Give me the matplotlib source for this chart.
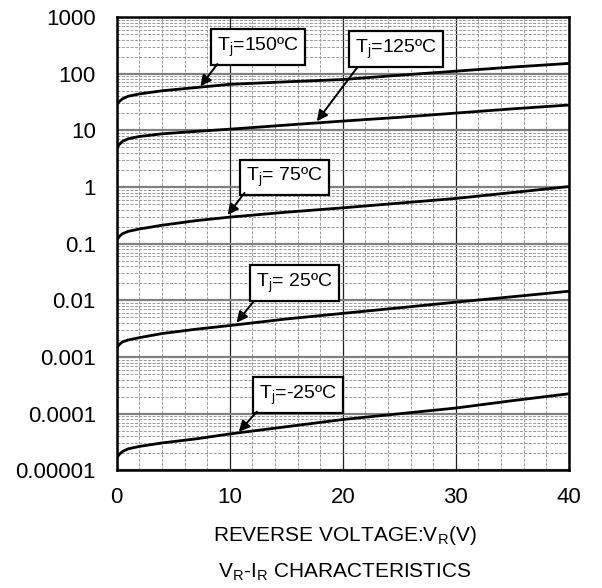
import matplotlib
matplotlib.use("Agg")
import matplotlib.pyplot as plt
from matplotlib.ticker import FixedLocator, LogLocator, NullFormatter

plt.rcParams['font.family'] = ['Liberation Sans', 'DejaVu Sans']
plt.rcParams['mathtext.fontset'] = 'custom'
plt.rcParams['mathtext.rm'] = 'Liberation Sans'

# reverse voltage (V)
vr = [0, 0.2, 0.5, 1, 2, 4, 7, 10, 15, 20, 25, 30, 35, 40]

# reverse current curves
ir_150 = [28, 32, 36, 40, 44, 50, 57, 65, 72, 79, 94, 111, 131, 152]
ir_125 = [4.8, 5.6, 6.4, 7.1, 7.8, 8.7, 9.6, 10.5, 12.4, 14.6, 17, 20.2, 24, 28]
ir_75 = [0.115, 0.133, 0.15, 0.165, 0.182, 0.212, 0.255, 0.295, 0.36, 0.43, 0.52, 0.63, 0.8, 1.02]
ir_25 = [0.00145, 0.00165, 0.00185, 0.002, 0.0022, 0.0026, 0.0031, 0.0036, 0.0047,
         0.0059, 0.0074, 0.0093, 0.0116, 0.0145]
ir_m25 = [1.65e-5, 1.9e-5, 2.15e-5, 2.4e-5, 2.65e-5, 3.05e-5, 3.6e-5, 4.4e-5, 5.9e-5,
          7.9e-5, 1.0e-4, 1.26e-4, 1.7e-4, 2.25e-4]

curves = [ir_150, ir_125, ir_75, ir_25, ir_m25]

# labels: text, box centre, arrow start, arrow tip
labels = ["T$_\\mathregular{j}$=150ºC", "T$_\\mathregular{j}$=125ºC",
          "T$_\\mathregular{j}$= 75ºC", "T$_\\mathregular{j}$= 25ºC",
          "T$_\\mathregular{j}$=-25ºC"]
box_xy = [(12.5, 299), (24.7, 273), (14.8, 1.476), (15.7, 0.0204), (16.0, 2.15e-4)]
arrow_from = [(8.9, 148), (21.3, 131), (11.3, 0.787), (12.1, 0.00953), (12.4, 1.09e-4)]
arrow_to = [(7.4, 60), (17.7, 14.5), (9.8, 0.322), (10.6, 0.00406), (10.8, 4.8e-5)]

y_ticks = [1e-5, 1e-4, 1e-3, 1e-2, 0.1, 1, 10, 100, 1000]
y_tick_labels = ["0.00001", "0.0001", "0.001", "0.01", "0.1", "1", "10", "100", "1000"]
x_ticks = [0, 10, 20, 30, 40]

fig = plt.figure(figsize=(6.02, 5.88), dpi=100)
ax = fig.add_axes([0.194, 0.2, 0.751, 0.771])

for ir in curves:
    ax.plot(vr, ir, color='black', lw=2.0, solid_capstyle='butt', zorder=4)

ax.set_yscale('log')
ax.set_xlim(0, 40)
ax.set_ylim(1e-5, 1000)

ax.set_xticks(x_ticks)
ax.set_xticklabels([str(v) for v in x_ticks])
ax.xaxis.set_minor_locator(FixedLocator(range(2, 40, 2)))
ax.set_yticks(y_ticks)
ax.set_yticklabels(y_tick_labels)
ax.yaxis.set_minor_locator(LogLocator(base=10, subs=range(2, 10), numticks=20))
ax.yaxis.set_minor_formatter(NullFormatter())

ax.tick_params(which='both', length=0)
ax.tick_params(axis='x', labelsize=16, pad=12)
ax.tick_params(axis='y', labelsize=16, pad=15)

# grid
ax.grid(which='minor', axis='both', color='#9a9a9a', lw=0.7, ls=(0, (3, 1.5)), zorder=1)
ax.grid(which='major', axis='y', color='#808080', lw=1.6, zorder=2)
ax.grid(which='major', axis='x', color='#202020', lw=0.9, zorder=2)

for s in ax.spines.values():
    s.set_linewidth(1.8)
    s.set_zorder(5)

for txt, bxy, a0, a1 in zip(labels, box_xy, arrow_from, arrow_to):
    ax.text(bxy[0], bxy[1], txt, fontsize=14, ha='center', va='center', zorder=6,
            bbox=dict(boxstyle='square,pad=0.32', fc='white', ec='black', lw=1.6))
    ax.annotate("", xy=a1, xytext=a0, zorder=6,
                arrowprops=dict(arrowstyle='-|>', color='black', lw=1.4,
                                mutation_scale=16, shrinkA=0, shrinkB=0))

fig.text(0.573, 0.09, "REVERSE VOLTAGE:V$_\\mathregular{R}$(V)", fontsize=15,
         ha='center', va='center')
fig.text(0.573, 0.027, "V$_\\mathregular{R}$-I$_\\mathregular{R}$ CHARACTERISTICS", fontsize=15,
         ha='center', va='center')

fig.savefig("out.png", dpi=100)
